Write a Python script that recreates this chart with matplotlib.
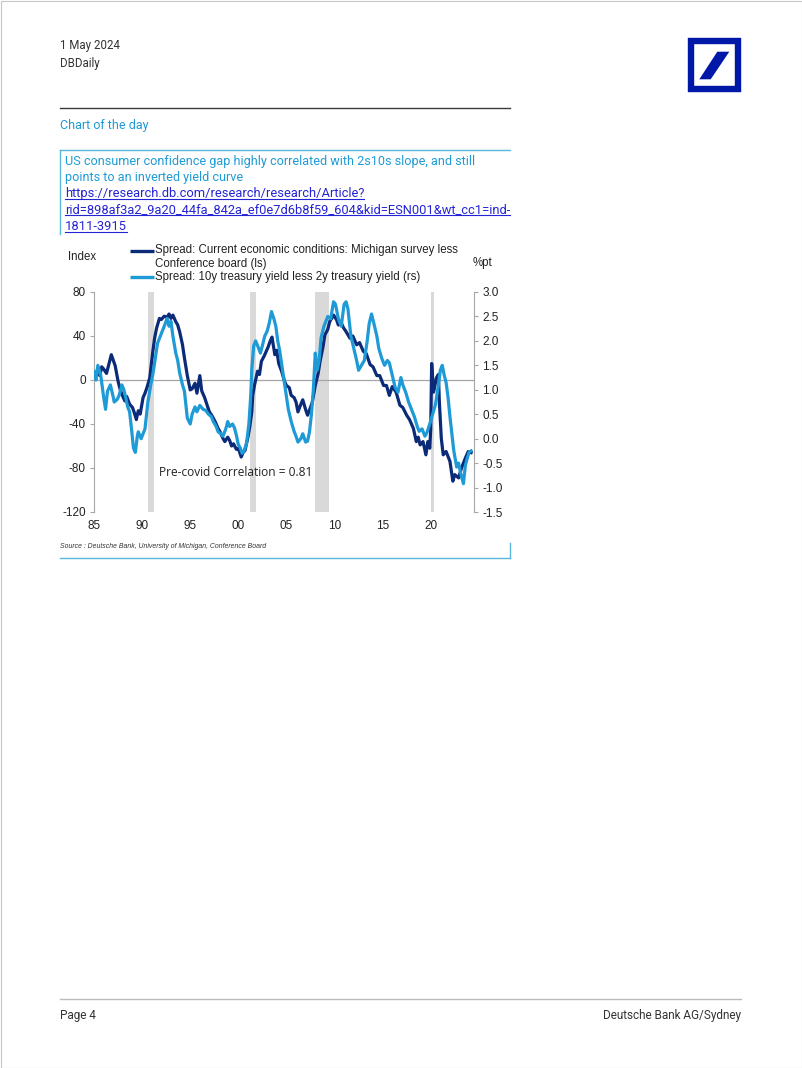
import matplotlib
matplotlib.use("Agg")
import matplotlib.pyplot as plt
from matplotlib.patches import Rectangle, Polygon

# ---- data ----
# Spread: current economic conditions, Michigan less Conference Board (ls, index)
michigan_dates = [1985.0, 1985.3, 1985.6, 1985.8, 1986.0, 1986.3, 1986.6, 1986.8, 1987.0, 1987.2,
                  1987.5, 1987.7, 1987.9, 1988.2, 1988.4, 1988.7, 1989.0, 1989.2, 1989.4, 1989.6,
                  1989.8, 1990.1, 1990.3, 1990.5, 1990.8, 1991.1, 1991.3, 1991.5, 1991.8, 1992.0,
                  1992.3, 1992.6, 1992.8, 1993.0, 1993.2, 1993.5, 1993.7, 1993.9, 1994.2, 1994.4,
                  1994.7, 1995.0, 1995.2, 1995.5, 1995.7, 1996.0, 1996.2, 1996.5, 1996.8, 1997.0,
                  1997.3, 1997.6, 1997.9, 1998.1, 1998.4, 1998.6, 1998.9, 1999.1, 1999.3, 1999.5,
                  1999.8, 2000.0, 2000.3, 2000.5, 2000.7, 2001.0, 2001.2, 2001.4, 2001.5, 2001.7,
                  2002.0, 2002.2, 2002.4, 2002.7, 2002.9, 2003.1, 2003.3, 2003.5, 2003.8, 2004.0,
                  2004.2, 2004.5, 2004.8, 2005.0, 2005.3, 2005.5, 2005.8, 2006.0, 2006.2, 2006.5,
                  2006.7, 2007.0, 2007.2, 2007.5, 2007.7, 2008.0, 2008.3, 2008.5, 2008.8, 2009.0,
                  2009.3, 2009.5, 2009.9, 2010.2, 2010.4, 2010.7, 2010.9, 2011.2, 2011.6, 2011.9,
                  2012.3, 2012.6, 2013.0, 2013.3, 2013.7, 2014.0, 2014.4, 2014.7, 2015.1, 2015.4,
                  2015.7, 2016.0, 2016.4, 2016.8, 2017.1, 2017.5, 2017.8, 2018.2, 2018.5, 2018.7,
                  2018.9, 2019.2, 2019.5, 2019.7, 2019.9, 2020.0, 2020.1, 2020.3, 2020.6, 2020.8,
                  2020.9, 2021.1, 2021.3, 2021.6, 2022.0, 2022.3, 2022.5, 2022.9, 2023.2, 2023.6,
                  2023.9, 2024.2]
michigan_spread = [2, 8, 4, 12, 10, 6, 16, 23, 18, 13,
                   -1, -8, -13, -19, -15, -22, -25, -30, -36, -28,
                   -31, -16, -12, -7, 2, 25, 38, 47, 56, 55,
                   58, 57, 60, 56, 59, 53, 50, 44, 32, 20,
                   4, -9, -8, -3, -12, 4, -10, -16, -24, -29,
                   -33, -38, -44, -47, -53, -56, -52, -55, -60, -58,
                   -63, -62, -70, -66, -64, -52, -42, -29, -14, -4,
                   8, 5, 17, 22, 26, 30, 35, 39, 23, 27,
                   15, 8, -1, -5, -7, -14, -16, -20, -29, -22,
                   -18, -27, -32, -25, -20, -5, 6, 17, 30, 41,
                   46, 53, 59, 55, 50, 52, 48, 44, 38, 40,
                   32, 34, 26, 24, 14, 12, 4, 4, -5, -5,
                   -14, -6, -11, -23, -25, -32, -36, -44, -56, -52,
                   -59, -56, -68, -56, -62, -45, 15, -11, 2, 5,
                   -20, -53, -68, -65, -74, -92, -86, -89, -80, -71,
                   -65, -66]

# Spread: 10y less 2y treasury yield (rs, %pt)
curve_dates = [1985.0, 1985.2, 1985.4, 1985.7, 1986.0, 1986.2, 1986.4, 1986.7, 1987.0, 1987.1,
               1987.4, 1987.6, 1987.9, 1988.1, 1988.3, 1988.5, 1988.7, 1988.9, 1989.1, 1989.3,
               1989.5, 1989.6, 1989.9, 1990.1, 1990.3, 1990.6, 1990.9, 1991.1, 1991.3, 1991.6,
               1992.0, 1992.3, 1992.6, 1992.8, 1993.0, 1993.2, 1993.5, 1993.7, 1993.9, 1994.2,
               1994.4, 1994.7, 1995.0, 1995.2, 1995.5, 1995.7, 1996.0, 1996.35, 1996.6, 1996.9,
               1997.2, 1997.4, 1997.7, 1997.9, 1998.2, 1998.4, 1998.7, 1998.9, 1999.1, 1999.4,
               1999.6, 1999.8, 2000.0, 2000.2, 2000.4, 2000.6, 2000.85, 2001.1, 2001.3, 2001.4,
               2001.6, 2001.8, 2002.05, 2002.3, 2002.5, 2002.75, 2003.0, 2003.2, 2003.45, 2003.7,
               2003.9, 2004.1, 2004.3, 2004.6, 2004.9, 2005.2, 2005.5, 2005.8, 2006.0, 2006.2,
               2006.5, 2006.7, 2007.0, 2007.2, 2007.4, 2007.6, 2007.8, 2008.0, 2008.2, 2008.4,
               2008.6, 2008.9, 2009.1, 2009.3, 2009.6, 2009.9, 2010.1, 2010.4, 2010.7, 2011.0,
               2011.2, 2011.4, 2011.7, 2012.0, 2012.3, 2012.5, 2012.8, 2013.1, 2013.4, 2013.6,
               2013.85, 2014.1, 2014.4, 2014.6, 2014.9, 2015.2, 2015.5, 2015.7, 2016.0, 2016.3,
               2016.6, 2016.9, 2017.1, 2017.4, 2017.7, 2018.0, 2018.3, 2018.6, 2018.8, 2019.1,
               2019.4, 2019.6, 2019.9, 2020.2, 2020.5, 2020.8, 2021.0, 2021.2, 2021.4, 2021.6,
               2021.8, 2022.0, 2022.2, 2022.4, 2022.7, 2022.9, 2023.1, 2023.4, 2023.6, 2023.8,
               2024.0, 2024.2]
curve_spread = [1.37, 1.2, 1.5, 1.3, 0.85, 0.6, 0.97, 1.1, 0.85, 0.75,
                0.8, 0.88, 1.1, 1.0, 0.84, 0.65, 0.55, 0.2, -0.19, -0.28,
                0.05, 0.14, 0.0, 0.1, 0.2, 0.75, 1.1, 1.3, 1.55, 1.95,
                2.15, 2.3, 2.46, 2.3, 2.4, 2.1, 1.75, 1.6, 1.35, 1.1,
                0.97, 0.42, 0.3, 0.5, 0.65, 0.55, 0.68, 0.6, 0.58, 0.5,
                0.45, 0.35, 0.25, 0.14, 0.1, 0.05, 0.2, 0.35, 0.25, 0.3,
                0.22, 0.07, -0.12, -0.19, -0.3, -0.25, -0.1, 0.3, 0.9, 1.4,
                1.9, 2.0, 1.88, 1.75, 1.9, 2.1, 2.2, 2.35, 2.6, 2.45,
                2.3, 2.0, 1.8, 1.4, 1.0, 0.6, 0.35, 0.15, 0.05, -0.07,
                0.0, 0.1, -0.07, -0.05, 0.14, 0.5, 1.0, 1.75, 1.4, 1.6,
                2.06, 2.3, 2.4, 2.5, 2.45, 2.8, 2.75, 2.45, 2.3, 2.75,
                2.8, 2.65, 2.1, 1.85, 1.6, 1.4, 1.5, 1.6, 2.0, 2.35,
                2.55, 2.35, 2.1, 1.85, 1.65, 1.5, 1.6, 1.55, 1.3, 1.05,
                0.95, 1.25, 1.1, 0.95, 0.75, 0.6, 0.45, 0.25, 0.15, 0.2,
                0.05, 0.12, 0.3, 0.5, 0.7, 1.1, 1.4, 1.5, 1.3, 1.15,
                0.85, 0.45, 0.1, -0.25, -0.58, -0.5, -0.7, -0.92, -0.55, -0.4,
                -0.27, -0.25]

recessions = [(1990.58, 1991.2), (2001.2, 2001.84), (2007.95, 2009.42), (2020.08, 2020.3)]
x_ticks = [1985, 1990, 1995, 2000, 2005, 2010, 2015, 2020]
x_labels = ["85", "90", "95", "00", "05", "10", "15", "20"]
left_ticks = [-120, -80, -40, 0, 40, 80]
right_ticks = [-1.5, -1.0, -0.5, 0.0, 0.5, 1.0, 1.5, 2.0, 2.5, 3.0]

# ---- colours ----
NAVY = "#0B2A78"; SKY = "#1E9AD6"; REC = "#D9D9D9"; AXG = "#A6A6A6"
CYAN = "#1E9BD7"; BOXL = "#5BB8DD"; LINK = "#2424D4"; INK = "#333333"; DBBLUE = "#0018A8"

plt.rcParams["axes.unicode_minus"] = False
W, H = 802, 1068
fig = plt.figure(figsize=(W / 100, H / 100), dpi=100)
fig.patch.set_facecolor("white")

# page overlay in pixel coordinates
bg = fig.add_axes([0, 0, 1, 1])
bg.set_xlim(0, W); bg.set_ylim(H, 0); bg.axis("off")
bg.add_patch(Rectangle((0.5, 0.5), W - 1, H - 1, fill=False, ec="#C8C8C8", lw=0.8))

PAGE = "Roboto"
bg.text(60, 46, "1 May 2024", fontsize=8.3, color=INK, va="center", family=PAGE)
bg.text(60, 63, "DBDaily", fontsize=8.3, color=INK, va="center", family=PAGE)

# logo
bg.add_patch(Rectangle((690.5, 41.3), 47.5, 47.5, fill=False, ec=DBBLUE, lw=4.6))
bg.add_patch(Polygon([(699.3, 79.3), (710.7, 79.3), (729.3, 51.7), (717.3, 51.7)],
                     closed=True, fc=DBBLUE, ec="none"))

bg.plot([60, 510], [108, 108], color="#3A3A3A", lw=1.0)
bg.text(60, 126, "Chart of the day", fontsize=9, color=CYAN, va="center", family=PAGE)

# title box
bg.plot([60, 510], [150, 150], color=BOXL, lw=1.0)
bg.plot([60, 60], [150, 234], color=BOXL, lw=1.0)
bg.text(65, 161, "US consumer confidence gap highly correlated with 2s10s slope, and still",
        fontsize=9.1, color=CYAN, va="center", family=PAGE)
bg.text(65, 177, "points to an inverted yield curve", fontsize=9.1, color=CYAN, va="center", family=PAGE)
link = ["https://research.db.com/research/research/Article?",
        "rid=898af3a2_9a20_44fa_842a_ef0e7d6b8f59_604&kid=ESN001&wt_cc1=ind-",
        "1811-3915"]
link_texts = []
for i, s in enumerate(link):
    t = bg.text(65, 193 + 16.5 * i, s, fontsize=9.25, color=LINK, va="center", family=PAGE)
    t.set_url("https://research.db.com")
    link_texts.append(t)

# legend + axis titles
CH = "Liberation Sans"
bg.text(68, 257, "Index", fontsize=8.3, color="#222222", va="center", family=CH)
bg.text(473, 263, "%pt", fontsize=8.3, color="#222222", va="center", family=CH)
bg.plot([130, 154], [250.5, 250.5], color=NAVY, lw=2.4, solid_capstyle="butt")
bg.plot([130, 154], [277, 277], color=SKY, lw=2.4, solid_capstyle="butt")
bg.text(155, 250.5, "Spread: Current economic conditions: Michigan survey less",
        fontsize=8.3, color="#222222", va="center", family=CH)
bg.text(155, 264, "Conference board (ls)", fontsize=8.3, color="#222222", va="center", family=CH)
bg.text(155, 277, "Spread: 10y treasury yield less 2y treasury yield (rs)",
        fontsize=8.3, color="#222222", va="center", family=CH)

# source + box bottom
bg.text(60, 547, "Source : Deutsche Bank, University of Michigan, Conference Board",
        fontsize=4.95, color=INK, va="center", style="italic", family=CH)
bg.plot([60, 510], [557.5, 557.5], color=BOXL, lw=1.0)
bg.plot([510, 510], [543, 557.5], color=BOXL, lw=1.0)

# footer
bg.plot([60, 741], [998.5, 998.5], color="#BBBBBB", lw=1.0)
bg.text(60, 1015, "Page 4", fontsize=8.5, color=INK, va="center", family=PAGE)
bg.text(741, 1015, "Deutsche Bank AG/Sydney", fontsize=8.5, color=INK, va="center",
        ha="right", family=PAGE)

# ---- chart ----
ax = fig.add_axes([94 / W, 1 - 512 / H, 380 / W, 220 / H])
ax.set_xlim(1985, 2024.5)
ax.set_ylim(-120, 80)
for a, b in recessions:
    ax.axvspan(a, b, color=REC, lw=0, zorder=0)
ax.axhline(0, color=AXG, lw=0.9, zorder=1)
ax.plot(michigan_dates, michigan_spread, color=NAVY, lw=2.3, zorder=3)
ax.set_xticks(x_ticks)
ax.set_xticklabels(x_labels, family=CH, fontsize=8.5, color="#222222")
ax.set_yticks(left_ticks)
ax.set_yticklabels([str(v) for v in left_ticks], family=CH, fontsize=8.5, color="#222222")
ax.tick_params(axis="x", length=0, pad=6)
ax.tick_params(axis="y", length=3, color=AXG, pad=3)
for s in ["top", "right", "bottom"]:
    ax.spines[s].set_visible(False)
ax.spines["left"].set_color(AXG)
ax.patch.set_alpha(0)

ax2 = ax.twinx()
ax2.set_ylim(-1.5, 3.0)
ax2.plot(curve_dates, curve_spread, color=SKY, lw=2.3, zorder=3)
ax2.set_yticks(right_ticks)
ax2.set_yticklabels([f"{v:.1f}" for v in right_ticks], family=CH, fontsize=8.5, color="#222222")
ax2.tick_params(axis="y", length=3, color=AXG, pad=3)
for s in ["top", "left", "bottom"]:
    ax2.spines[s].set_visible(False)
ax2.spines["right"].set_color(AXG)

ax.text(0.17, 0.18, "Pre-covid Correlation = 0.81", transform=ax.transAxes,
        fontsize=8.6, family=["Open Sans", "DejaVu Sans"], color="#222222", va="center")

# underline the link text to its rendered width
fig.canvas.draw()
r = fig.canvas.get_renderer()
for t in link_texts:
    bb = t.get_window_extent(r)
    yb = H - bb.y0 - 1
    bg.plot([bb.x0, bb.x1], [yb, yb], color=LINK, lw=0.8)

fig.savefig("out.png", dpi=100, facecolor="white")
